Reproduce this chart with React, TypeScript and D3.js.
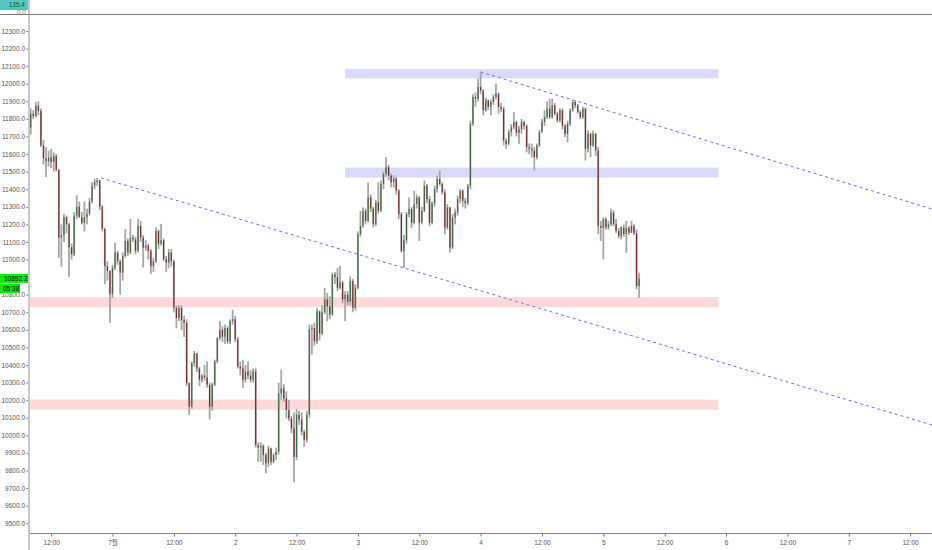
import * as d3 from 'd3'
import { useEffect, useRef } from 'react'

// 30-minute candles, [high, low, close]; open = previous close
const firstOpen = 11750
const jun30: [number, number, number][] = [
  [11860, 11710, 11830], [11850, 11800, 11815], [11895, 11810, 11875], [11900, 11820, 11845],
  [11860, 11640, 11650], [11680, 11540, 11575], [11640, 11470, 11560], [11620, 11530, 11580],
  [11630, 11520, 11555], [11610, 11500, 11590], [11600, 11500, 11510], [11515, 11010, 11125],
  [11200, 10960, 11140], [11260, 11100, 11240], [11250, 11150, 11200], [11210, 10900, 11070],
  [11090, 11000, 11030], [11270, 11020, 11250], [11365, 11230, 11300], [11330, 11240, 11240],
  [11270, 11200, 11210], [11330, 11160, 11240], [11290, 11200, 11260], [11350, 11250, 11330],
  [11440, 11320, 11420], [11460, 11400, 11440], [11465, 11420, 11450], [11455, 11280, 11300],
  [11310, 11160, 11174], [11180, 10860, 10963], [10990, 10880, 10934], [10940, 10640, 10803],
]
const jul1: [number, number, number][] = [
  [10970, 10780, 10953], [11096, 10940, 11039], [11050, 10970, 10990], [11000, 10800, 10925],
  [11040, 10880, 11020], [11174, 11010, 11106], [11120, 11020, 11040], [11231, 11030, 11125],
  [11140, 11100, 11115], [11130, 11030, 11049], [11231, 11040, 11191], [11220, 11100, 11125],
  [11140, 10955, 11068], [11110, 11050, 11080], [11090, 11000, 11049], [11060, 10917, 10963],
  [11010, 10930, 10990], [11182, 10980, 11163], [11170, 11060, 11089], [11203, 11080, 11110],
  [11120, 10990, 11003], [11020, 10930, 10982], [11060, 10950, 11040], [11060, 10960, 10990],
  [11000, 10700, 10725], [10740, 10610, 10667], [10740, 10650, 10725], [10740, 10600, 10655],
  [10680, 10560, 10640], [10660, 10280, 10296], [10300, 10117, 10163], [10420, 10150, 10410],
  [10480, 10390, 10467], [10470, 10360, 10380], [10390, 10280, 10317], [10350, 10300, 10340],
  [10400, 10310, 10330], [10420, 10270, 10288], [10300, 10089, 10163], [10300, 10140, 10288],
  [10430, 10280, 10420], [10560, 10410, 10553], [10649, 10540, 10600], [10620, 10530, 10560],
  [10630, 10520, 10610], [10620, 10520, 10534], [10660, 10520, 10649], [10715, 10630, 10660],
]
const jul2: [number, number, number][] = [
  [10680, 10530, 10546], [10560, 10380, 10392], [10420, 10340, 10380], [10430, 10270, 10316],
  [10400, 10300, 10363], [10420, 10320, 10340], [10370, 10300, 10316], [10380, 10300, 10363],
  [10380, 9930, 9944], [9960, 9849, 9930], [9960, 9850, 9940], [9950, 9831, 9888],
  [9900, 9783, 9840], [9940, 9820, 9925], [9930, 9830, 9849], [9900, 9840, 9888],
  [9930, 9860, 9906], [10300, 9890, 10239], [10374, 10200, 10267], [10290, 10190, 10210],
  [10250, 10096, 10144], [10200, 10080, 10096], [10110, 10010, 10039], [10130, 9734, 9877],
  [10150, 9860, 10117], [10140, 10060, 10090], [10130, 10000, 10020], [10030, 9934, 9975],
  [10140, 9960, 10117], [10630, 10100, 10603], [10630, 10460, 10610], [10640, 10510, 10534],
  [10725, 10520, 10706], [10710, 10540, 10580], [10740, 10570, 10700], [10839, 10690, 10773],
  [10810, 10649, 10734], [10790, 10660, 10687], [10925, 10680, 10915], [10930, 10860, 10900],
  [10953, 10820, 10839], [10964, 10830, 10870], [10880, 10750, 10773], [10820, 10649, 10800],
  [10820, 10740, 10760], [10905, 10740, 10877], [10890, 10700, 10725], [10860, 10710, 10840],
]
const jul3: [number, number, number][] = [
  [11160, 10830, 11144], [11277, 11130, 11191], [11296, 11180, 11277], [11290, 11200, 11220],
  [11439, 11210, 11353], [11370, 11270, 11290], [11300, 11182, 11201], [11340, 11190, 11325],
  [11439, 11260, 11277], [11450, 11270, 11430], [11500, 11400, 11487], [11582, 11470, 11525],
  [11540, 11450, 11477], [11490, 11410, 11439], [11480, 11410, 11460], [11470, 11370, 11391],
  [11400, 11230, 11258], [11270, 11040, 11049], [11140, 10953, 11110], [11270, 11090, 11258],
  [11353, 11240, 11287], [11300, 11180, 11210], [11391, 11200, 11315], [11370, 11290, 11353],
  [11360, 11106, 11210], [11300, 11200, 11277], [11449, 11270, 11420], [11430, 11320, 11344],
  [11360, 11190, 11210], [11330, 11200, 11320], [11420, 11300, 11401], [11477, 11380, 11458],
  [11506, 11420, 11430], [11440, 11370, 11382], [11400, 11144, 11182], [11315, 11170, 11296],
  [11300, 11039, 11068], [11260, 11060, 11239], [11290, 11200, 11267], [11363, 11250, 11344],
  [11400, 11320, 11391], [11400, 11300, 11334], [11350, 11290, 11320], [11430, 11310, 11420],
  [11790, 11400, 11773], [11940, 11760, 11925], [11950, 11870, 11915], [12030, 11900, 11982],
]
const jul4: [number, number, number][] = [
  [12068, 11940, 11960], [11970, 11820, 11849], [11920, 11840, 11906], [11910, 11850, 11868],
  [11910, 11820, 11896], [11940, 11880, 11925], [12001, 11910, 11944], [11950, 11830, 11868],
  [11890, 11840, 11858], [11870, 11649, 11677], [11690, 11630, 11658], [11740, 11650, 11725],
  [11770, 11700, 11753], [11839, 11740, 11782], [11790, 11700, 11720], [11760, 11658, 11740],
  [11800, 11715, 11782], [11790, 11740, 11760], [11770, 11610, 11639], [11660, 11600, 11630],
  [11660, 11580, 11620], [11640, 11506, 11582], [11660, 11570, 11649], [11740, 11640, 11725],
  [11800, 11720, 11782], [11849, 11760, 11810], [11900, 11800, 11858], [11915, 11800, 11810],
  [11915, 11800, 11877], [11890, 11820, 11830], [11840, 11780, 11791], [11860, 11780, 11849],
  [11860, 11740, 11763], [11770, 11696, 11715], [11790, 11667, 11772], [11860, 11760, 11849],
  [11906, 11840, 11896], [11906, 11860, 11877], [11885, 11830, 11839], [11850, 11800, 11810],
  [11870, 11800, 11858], [11865, 11563, 11630], [11734, 11610, 11715], [11720, 11582, 11649],
  [11734, 11640, 11715], [11720, 11590, 11620], [11640, 11144, 11191], [11220, 11106, 11180],
]
const jul5: [number, number, number][] = [
  [11240, 11001, 11230], [11240, 11170, 11182], [11220, 11170, 11200], [11289, 11190, 11267],
  [11280, 11190, 11201], [11230, 11150, 11163], [11180, 11120, 11134], [11190, 11115, 11182],
  [11200, 11130, 11144], [11220, 11039, 11180], [11190, 11140, 11153], [11220, 11150, 11191],
  [11200, 11140, 11150], [11172, 10830, 10849], [10925, 10782, 10892.2],
]

// horizontal zones: [top price, bottom price]
const redZones = [[10786, 10729], [10203, 10146]]
const blueZones = [[12083, 12031], [11523, 11466]]
// dashed trend lines: [start time, start price, price at right edge]
const trendLines: [string, number, number][] = [
  ['2019-06-30T21:45Z', 11464, 10059],
  ['2019-07-04T00:00Z', 12067, 11287],
]
const xTickLabels = ['12:00', '7월', '12:00', '2', '12:00', '3', '12:00', '4', '12:00', '5', '12:00', '6', '12:00', '7', '12:00']
const lastPrice = '10892.2'
const countdown = '05:38'
const topValue = '135.4'

export default function App() {
  const ref = useRef<SVGSVGElement | null>(null)

  useEffect(() => {
    document.body.style.margin = '0'
    const width = 932
    const height = 550
    const left = 29
    const top = 14
    const bottom = 533
    const fontSize = 6.5
    const font = "'Liberation Sans', Arial, sans-serif"

    const start = Date.UTC(2019, 5, 30, 8, 0)
    const half = 30 * 60 * 1000
    const domainStart = new Date(Date.UTC(2019, 5, 30, 7, 40))
    const domainEnd = new Date(Date.UTC(2019, 6, 7, 16, 17))
    const zoneStart = new Date(Date.UTC(2019, 6, 2, 21, 30))
    const zoneEnd = new Date(Date.UTC(2019, 6, 5, 22, 30))

    let prev = firstOpen
    const candles = [...jun30, ...jul1, ...jul2, ...jul3, ...jul4, ...jul5].map((d, i) => {
      const o = prev
      const c = d[2]
      prev = c
      return {
        t: new Date(start + i * half),
        o,
        c,
        h: Math.max(d[0], o, c),
        l: Math.min(d[1], o, c),
      }
    })

    const x = d3.scaleUtc().domain([domainStart, domainEnd]).range([left, width])
    const y = d3.scaleLinear().domain([9500, 12300]).range([523.2, 31])

    const svg = d3.select(ref.current!)
    svg.selectAll('*').remove()

    svg
      .append('defs')
      .append('clipPath')
      .attr('id', 'plot-area')
      .append('rect')
      .attr('x', left + 1)
      .attr('y', top)
      .attr('width', width - left - 1)
      .attr('height', bottom - top)

    const plot = svg.append('g').attr('clip-path', 'url(#plot-area)')

    // zones
    redZones.forEach(([p1, p2]) => {
      plot
        .append('rect')
        .attr('x', x(domainStart))
        .attr('y', y(p1))
        .attr('width', x(zoneEnd) - x(domainStart))
        .attr('height', y(p2) - y(p1))
        .attr('fill', '#ffd9d9')
    })
    blueZones.forEach(([p1, p2]) => {
      plot
        .append('rect')
        .attr('x', x(zoneStart))
        .attr('y', y(p1))
        .attr('width', x(zoneEnd) - x(zoneStart))
        .attr('height', y(p2) - y(p1))
        .attr('fill', '#dadafd')
    })

    // trend lines
    trendLines.forEach(([t0, p0, p1]) => {
      plot
        .append('line')
        .attr('x1', x(new Date(t0)))
        .attr('y1', y(p0))
        .attr('x2', x(domainEnd))
        .attr('y2', y(p1))
        .attr('stroke', '#6f6ff0')
        .attr('stroke-width', 1)
        .attr('stroke-dasharray', '3,3')
    })

    // candles
    const g = plot.append('g')
    g.selectAll('rect.wick')
      .data(candles)
      .join('rect')
      .attr('class', 'wick')
      .attr('x', (d) => x(d.t) - 0.9)
      .attr('y', (d) => y(d.h))
      .attr('width', 1.8)
      .attr('height', (d) => Math.max(0.8, y(d.l) - y(d.h)))
      .attr('fill', '#a6a6a6')
    g.selectAll('rect.body')
      .data(candles)
      .join('rect')
      .attr('class', 'body')
      .attr('x', (d) => x(d.t) - 0.6)
      .attr('y', (d) => y(Math.max(d.o, d.c)))
      .attr('width', 1.2)
      .attr('height', (d) => Math.max(0.8, Math.abs(y(d.o) - y(d.c))))
      .attr('fill', (d) => (d.c >= d.o ? '#3f6b3f' : '#7a2c2c'))

    // frame line
    svg
      .append('line')
      .attr('x1', left)
      .attr('x2', width)
      .attr('y1', bottom + 0.5)
      .attr('y2', bottom + 0.5)
      .attr('stroke', '#8a8a8a')

    // Y axis (the label hidden under the last-price box is left out)
    const yp = y(+lastPrice)
    const yTicks = d3.range(9500, 12301, 100).filter((v) => Math.abs(y(v) - yp) > 6)
    const yAxis = svg
      .append('g')
      .attr('transform', `translate(${left - 0.5},0)`)
      .call(
        d3
          .axisLeft(y)
          .tickValues(yTicks)
          .tickFormat(d3.format('.1f'))
          .tickSize(2)
          .tickPadding(1.5)
      )
    yAxis.select('.domain').remove()
    yAxis.selectAll('line').attr('stroke', '#666')
    yAxis
      .selectAll('text')
      .attr('fill', '#555')
      .attr('font-size', fontSize)
      .attr('font-family', font)

    // X axis
    const tickTimes = xTickLabels.map((_, i) => new Date(Date.UTC(2019, 5, 30, 12) + i * 12 * 3600 * 1000))
    const xAxis = svg
      .append('g')
      .attr('transform', `translate(0,${bottom + 0.5})`)
      .call(
        d3
          .axisBottom(x)
          .tickValues(tickTimes)
          .tickFormat((_, i) => xTickLabels[i])
          .tickSize(3)
          .tickPadding(4)
      )
    xAxis.select('.domain').remove()
    xAxis.selectAll('line').attr('stroke', '#777')
    xAxis
      .selectAll('text')
      .attr('fill', '#555')
      .attr('font-size', fontSize)
      .attr('font-family', "'Liberation Sans', 'Noto Sans CJK KR', Arial, sans-serif")

    // vertical axis bar
    svg
      .append('line')
      .attr('x1', left)
      .attr('x2', left)
      .attr('y1', 0)
      .attr('y2', height)
      .attr('stroke', '#c9c9c9')
      .attr('stroke-width', 2)

    // top pane
    svg
      .append('text')
      .attr('x', 26)
      .attr('y', top + 1)
      .attr('text-anchor', 'end')
      .attr('font-size', fontSize)
      .attr('fill', '#777')
      .attr('font-family', font)
      .text('0.0')
    svg
      .append('line')
      .attr('x1', 0)
      .attr('x2', width)
      .attr('y1', top + 0.5)
      .attr('y2', top + 0.5)
      .attr('stroke', '#7d7d7d')
    svg.append('rect').attr('x', 0).attr('y', 0).attr('width', 28).attr('height', 10).attr('fill', '#55c6c4')
    svg
      .append('text')
      .attr('x', 25)
      .attr('y', 7.3)
      .attr('text-anchor', 'end')
      .attr('font-size', fontSize)
      .attr('fill', '#0b5a1a')
      .attr('font-family', font)
      .text(topValue)

    // last price labels
    svg.append('rect').attr('x', 0).attr('y', yp - 4.5).attr('width', 28).attr('height', 9).attr('fill', '#00ee00')
    svg
      .append('text')
      .attr('x', 4)
      .attr('y', yp + 2.3)
      .attr('font-size', fontSize)
      .attr('fill', '#000')
      .attr('font-family', font)
      .text(lastPrice)
    svg.append('rect').attr('x', 0).attr('y', yp + 5.5).attr('width', 20).attr('height', 9).attr('fill', '#00ee00')
    svg
      .append('text')
      .attr('x', 3)
      .attr('y', yp + 12.3)
      .attr('font-size', fontSize)
      .attr('fill', '#000')
      .attr('font-family', font)
      .text(countdown)
  }, [])

  return <svg ref={ref} width={932} height={550} style={{ display: 'block', background: '#fff' }} />
}
